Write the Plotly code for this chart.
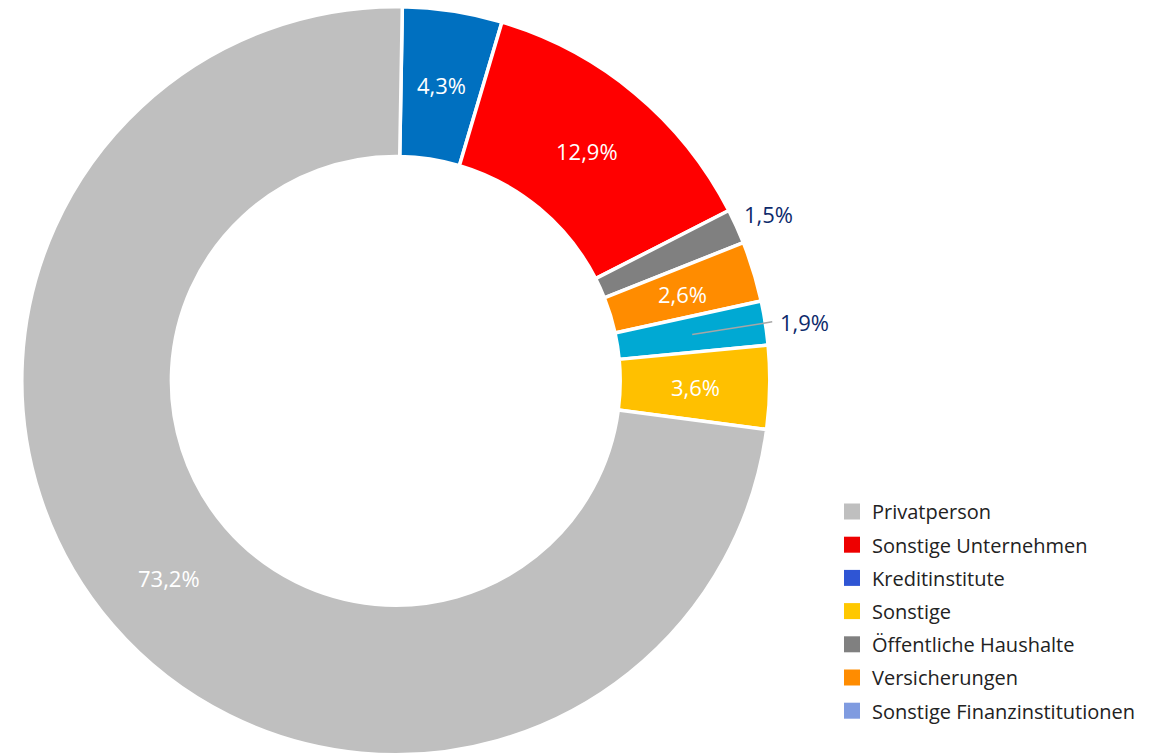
import math
import plotly.graph_objects as go

# Slice data (clockwise from 12 o'clock)
slice_labels = ["Kreditinstitute", "Sonstige Unternehmen", "Öffentliche Haushalte",
                "Versicherungen", "Sonstige Finanzinstitutionen", "Sonstige", "Privatperson"]
slice_values = [4.3, 12.9, 1.5, 2.6, 1.9, 3.6, 73.2]
slice_colors = ["#0070c0", "#ff0000", "#808080", "#ff8c00", "#00a9d3", "#ffc000", "#bfbfbf"]
label_outside = [False, False, True, False, True, False, False]

# Legend entries (order and swatch colors as shown)
legend_labels = ["Privatperson", "Sonstige Unternehmen", "Kreditinstitute", "Sonstige",
                 "Öffentliche Haushalte", "Versicherungen", "Sonstige Finanzinstitutionen"]
legend_colors = ["#bfbfbf", "#ee0000", "#2f55d4", "#ffc800", "#808080", "#ff8c00", "#7f9be0"]

W, H = 1161, 755
cx, cy, R = 395.8, 380.8, 374
hole = 0.6
ROT = 1.0
FONT = "Open Sans"

fig = go.Figure()
fig.add_trace(go.Pie(
    labels=slice_labels, values=slice_values, sort=False, direction="clockwise", rotation=ROT,
    hole=hole, textinfo="none",
    marker=dict(colors=slice_colors, line=dict(color="white", width=3.5)),
    showlegend=False, hoverinfo="label+value",
    domain=dict(x=[(cx - R) / W, (cx + R) / W], y=[(H - cy - R) / H, (H - cy + R) / H]),
))

for i, (lab, col) in enumerate(zip(legend_labels, legend_colors)):
    fig.add_trace(go.Scatter(
        x=[None], y=[None], mode="markers", name=lab, legendgroup=f"g{i}",
        marker=dict(symbol="square", size=18, color=col),
    ))

# value labels positioned from the slice angles
total = sum(slice_values)
cum = 0.0
rmid = 300
for v, outside in zip(slice_values, label_outside):
    ang = (cum + v / 2) / total * 2 * math.pi + math.radians(ROT)
    cum += v
    txt = f"{v:.1f}".replace(".", ",") + "%"
    s, c = math.sin(ang), math.cos(ang)
    if not outside:
        px, py = cx + rmid * s, cy - rmid * c + 1
        fig.add_annotation(x=px / W, y=1 - py / H, xref="paper", yref="paper",
                           text=txt, showarrow=False, xanchor="center", yanchor="middle",
                           font=dict(color="white", size=22, family=FONT))
    else:
        if v < 1.7:
            px, py = cx + (R + 6) * s, cy - (R + 6) * c - 10
            fig.add_annotation(x=px / W, y=1 - py / H, xref="paper", yref="paper",
                               text=txt, showarrow=False, xanchor="left", yanchor="middle",
                               font=dict(color="#0d2a6b", size=22, family=FONT))
        else:
            # leader line from mid-ring to just outside the ring, then label
            x0, y0 = cx + rmid * s, cy - rmid * c
            x1, y1 = cx + (R + 7) * s, cy - (R + 7) * c
            fig.add_shape(type="line", xref="paper", yref="paper",
                          x0=x0 / W, y0=1 - y0 / H, x1=x1 / W, y1=1 - y1 / H,
                          line=dict(color="#a6a6a6", width=1.5))
            fig.add_annotation(x=(x1 + 6) / W, y=1 - y1 / H, xref="paper", yref="paper",
                               text=txt, showarrow=False, xanchor="left", yanchor="middle",
                               font=dict(color="#0d2a6b", size=22, family=FONT))

fig.update_layout(
    width=W, height=H, margin=dict(l=0, r=0, t=0, b=0),
    paper_bgcolor="white", plot_bgcolor="white",
    xaxis=dict(visible=False), yaxis=dict(visible=False),
    legend=dict(x=832 / W, y=1 - 492 / H, xanchor="left", yanchor="top",
                font=dict(size=20, family=FONT, color="#222222"),
                tracegroupgap=4.2, itemsizing="trace"),
)

fig.write_html("out.html", config={"displayModeBar": False},
               post_script="document.body.style.margin='0';")
